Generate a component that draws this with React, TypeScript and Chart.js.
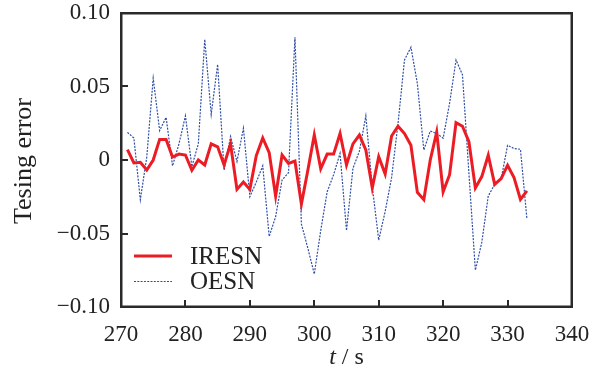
import React, { useEffect, useRef } from "react";
import { Chart, registerables } from "chart.js";

Chart.register(...registerables);

const tValues = [
  271, 272, 273, 274, 275, 276, 277, 278, 279, 280, 281, 282, 283, 284, 285, 286, 287, 288, 289, 290,
  291, 292, 293, 294, 295, 296, 297, 298, 299, 300, 301, 302, 303, 304, 305, 306, 307, 308, 309, 310,
  311, 312, 313, 314, 315, 316, 317, 318, 319, 320, 321, 322, 323, 324, 325, 326, 327, 328, 329, 330,
  331, 332, 333,
];

const iresn = [
  0.007, -0.002, -0.0016, -0.0068, 0.0, 0.014, 0.014, 0.002, 0.004, 0.0034, -0.007, 0.0, -0.0034, 0.011,
  0.009, -0.0034, 0.011, -0.02, -0.015, -0.02, 0.003, 0.015, 0.005, -0.0245, 0.0034, -0.0023, -0.0007,
  -0.03, -0.007, 0.017, -0.006, 0.004, 0.004, 0.018, -0.0034, 0.011, 0.017, 0.0068, -0.019, 0.0023,
  -0.0095, 0.0163, 0.023, 0.018, 0.01, -0.022, -0.027, 0.0, 0.019, -0.0216, -0.01, 0.0254, 0.023, 0.0125,
  -0.019, -0.0113, 0.0032, -0.0166, -0.0127, -0.0036, -0.012, -0.0268, -0.021,
];

const oesn = [
  0.0188, 0.015, -0.027, 0.002, 0.0556, 0.02, 0.029, -0.004, 0.011, 0.03, -0.0045, 0.011, 0.082, 0.031,
  0.065, -0.007, 0.016, -0.001, 0.0216, -0.025, -0.015, -0.004, -0.052, -0.0386, -0.0136, -0.0086, 0.0835,
  -0.0436, -0.06, -0.0776, -0.048, -0.0216, -0.01, 0.0045, -0.048, -0.0057, 0.006, 0.03, -0.018, -0.0545,
  -0.035, -0.012, 0.025, 0.068, 0.0767, 0.052, 0.0068, 0.0197, 0.018, 0.0148, 0.0386, 0.068, 0.058, -0.009,
  -0.075, -0.056, -0.0245, -0.0166, -0.013, 0.01, 0.0078, 0.0073, -0.04,
];

const xTicks = [270, 280, 290, 300, 310, 320, 330, 340];
const yTicks = [-0.1, -0.05, 0, 0.05, 0.1];
const seriesNames = ["IRESN", "OESN"];
const yTitle = "Tesing error";

const FONT = "'Liberation Serif', 'Times New Roman', serif";
const TEXT = "#222";
const FRAME = "#2a2a2a";

const framePlugin = {
  id: "frameAndLabels",
  afterDraw(chart: any) {
    const { ctx, chartArea } = chart;
    const left = Math.round(chartArea.left);
    const right = Math.round(chartArea.right);
    const top = Math.round(chartArea.top);
    const bottom = Math.round(chartArea.bottom);
    const xs = chart.scales.x;
    const ys = chart.scales.y;
    ctx.save();
    ctx.fillStyle = FRAME;
    // frame
    ctx.fillRect(left - 1, top - 1, right - left + 2, 2.5);
    ctx.fillRect(left - 1, bottom - 1.5, right - left + 2, 2.5);
    ctx.fillRect(left - 1, top - 1, 2.5, bottom - top + 2);
    ctx.fillRect(right - 1.5, top - 1, 2.5, bottom - top + 2);
    // inward ticks
    xTicks.forEach((v) => {
      const px = Math.round(xs.getPixelForValue(v));
      ctx.fillRect(px - 1, bottom - 7, 2, 7);
    });
    yTicks.forEach((v) => {
      const py = Math.round(ys.getPixelForValue(v));
      ctx.fillRect(left, py - 1, 7, 2);
    });

    // y title
    ctx.fillStyle = TEXT;
    ctx.save();
    ctx.translate(24, (top + bottom) / 2 + 1);
    ctx.rotate(-Math.PI / 2);
    ctx.font = `26px ${FONT}`;
    ctx.textAlign = "center";
    ctx.textBaseline = "middle";
    ctx.fillText(yTitle, 0, 0);
    ctx.restore();

    // x title: italic t, upright " / s"
    const cx = (left + right) / 2;
    const ty = 358;
    ctx.textBaseline = "middle";
    ctx.textAlign = "left";
    ctx.font = `italic 24px ${FONT}`;
    const wT = ctx.measureText("t").width;
    ctx.font = `24px ${FONT}`;
    const rest = " / s";
    const wR = ctx.measureText(rest).width;
    const sx = cx - (wT + wR) / 2;
    ctx.font = `italic 24px ${FONT}`;
    ctx.fillText("t", sx, ty);
    ctx.font = `24px ${FONT}`;
    ctx.fillText(rest, sx + wT, ty);

    // legend
    const lx0 = left + 13;
    const lx1 = left + 51;
    const baseY = bottom - 51;
    chart.data.datasets.forEach((ds: any, i: number) => {
      const y = baseY + i * 25.5;
      ctx.strokeStyle = ds.borderColor;
      ctx.lineWidth = ds.borderWidth;
      ctx.setLineDash(ds.borderDash || []);
      ctx.beginPath();
      ctx.moveTo(lx0, y);
      ctx.lineTo(lx1, y);
      ctx.stroke();
      ctx.setLineDash([]);
      ctx.fillStyle = TEXT;
      ctx.font = `25px ${FONT}`;
      ctx.textAlign = "left";
      ctx.textBaseline = "middle";
      ctx.fillText(ds.label, left + 69, y + 1);
    });
    ctx.restore();
  },
};

export default function App() {
  const ref = useRef<HTMLCanvasElement | null>(null);
  useEffect(() => {
    document.body.style.margin = "0";
    if (!ref.current) return;
    const chart = new Chart(ref.current, {
      type: "line",
      data: {
        datasets: [
          {
            label: seriesNames[0],
            data: tValues.map((t, i) => ({ x: t, y: iresn[i] })),
            borderColor: "#ec1c24",
            borderWidth: 3,
            pointRadius: 0,
            tension: 0,
            fill: false,
          },
          {
            label: seriesNames[1],
            data: tValues.map((t, i) => ({ x: t, y: oesn[i] })),
            borderColor: "#2f4fa6",
            borderWidth: 1.2,
            borderDash: [2, 1.3],
            pointRadius: 0,
            tension: 0,
            fill: false,
          },
        ],
      },
      options: {
        animation: false,
        responsive: false,
        devicePixelRatio: 1,
        layout: { padding: { top: 13, right: 26, left: 0, bottom: 0 } },
        plugins: { legend: { display: false }, tooltip: { enabled: false }, title: { display: false } },
        scales: {
          x: {
            type: "linear",
            min: 270,
            max: 340,
            afterBuildTicks: (s: any) => {
              s.ticks = xTicks.map((v) => ({ value: v }));
            },
            afterFit: (s: any) => {
              s.height = 67;
              s.paddingLeft = 0;
              s.paddingRight = 0;
            },
            grid: { display: false, drawTicks: false },
            border: { display: false },
            ticks: {
              padding: 14,
              color: TEXT,
              font: { family: FONT, size: 23 },
              maxRotation: 0,
              autoSkip: false,
              callback: (v: any) => String(v),
            },
          },
          y: {
            type: "linear",
            min: -0.1,
            max: 0.1,
            afterBuildTicks: (s: any) => {
              s.ticks = yTicks.map((v) => ({ value: v }));
            },
            afterFit: (s: any) => {
              s.width = 121;
              s.paddingTop = 0;
              s.paddingBottom = 0;
            },
            grid: { display: false, drawTicks: false },
            border: { display: false },
            ticks: {
              padding: 11,
              color: TEXT,
              font: { family: FONT, size: 23 },
              autoSkip: false,
              callback: (v: any) => {
                const n = Number(v);
                if (Math.abs(n) < 1e-9) return "0";
                return (n < 0 ? "\u2212" : "") + Math.abs(n).toFixed(2);
              },
            },
          },
        },
      },
      plugins: [framePlugin],
    });
    return () => chart.destroy();
  }, []);
  return (
    <div style={{ width: 598, height: 374, background: "#fff" }}>
      <canvas ref={ref} width={598} height={374} style={{ display: "block" }} />
    </div>
  );
}
